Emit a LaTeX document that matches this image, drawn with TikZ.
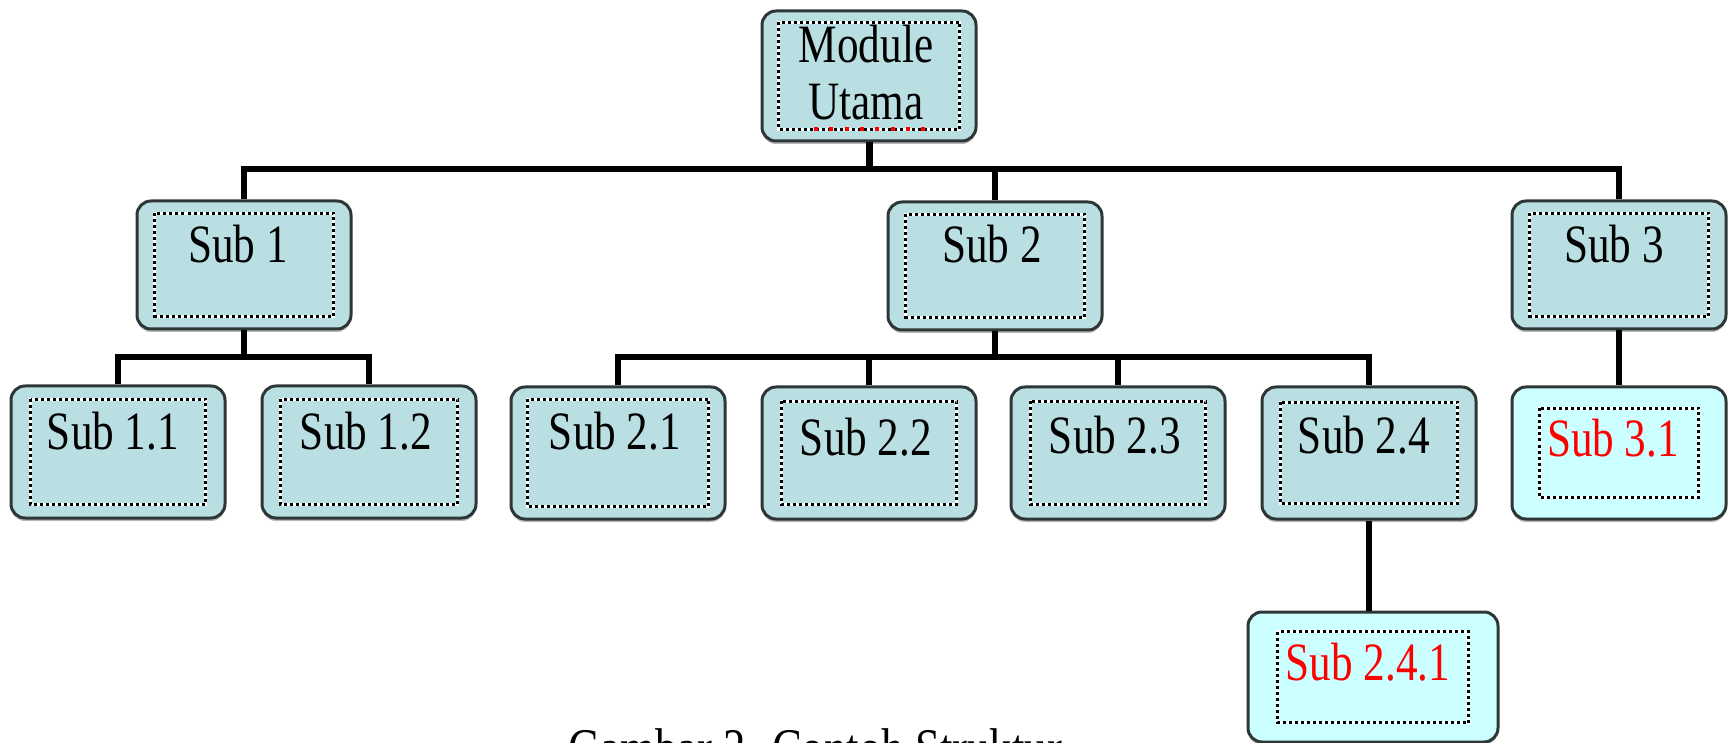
\documentclass[tikz,border=0pt]{standalone}
\usepackage{fontspec}
\setmainfont{Liberation Serif}
\newfontfamily\boxfont[FakeStretch=0.8]{Liberation Serif}
\usetikzlibrary{calc,shadows}

\definecolor{boxfill}{HTML}{BADFE3}
\definecolor{newfill}{HTML}{CCFFFF}
\definecolor{edgecol}{HTML}{2E3636}

\tikzset{
  unitbox/.style={draw=edgecol, line width=1.5pt, rounded corners=7pt,
    fill=boxfill, minimum width=107pt, minimum height=64pt, inner sep=0pt,
    drop shadow={shadow xshift=0pt, shadow yshift=-1.5pt, fill=black!28, opacity=1}},
  newbox/.style={unitbox, fill=newfill},
  lbl/.style={font=\boxfont\fontsize{27}{28.5}\selectfont, anchor=base, inner sep=0pt},
  newlbl/.style={lbl, text=red},
  conn/.style={line width=3pt, black},
}

% dotted black-and-white frame inside a box: node, horizontal and vertical inset
\newcommand\dotframe[3]{%
  \draw[white, line width=1.5pt]
    ($(#1.north west)+(#2,#3)$) rectangle ($(#1.south east)+(-#2,-#3)$);
  \draw[black, line width=1.5pt, dash pattern=on 1.5pt off 1.5pt]
    ($(#1.north west)+(#2,#3)$) rectangle ($(#1.south east)+(-#2,-#3)$);
}

\begin{document}
\begin{tikzpicture}[x=0.5pt, y=-0.5pt]
\useasboundingbox (0,0) rectangle (1731,743);
\clip (0,0) rectangle (1731,743);

% boxes
\node[unitbox, minimum height=65pt] (mod) at (869,76) {};
\node[unitbox] (s1) at (244,265) {};
\node[unitbox] (s2) at (995,266) {};
\node[unitbox] (s3) at (1619,265) {};
\node[unitbox, minimum height=66pt] (s11) at (118,452) {};
\node[unitbox, minimum height=66pt] (s12) at (369,452) {};
\node[unitbox, minimum height=66pt] (s21) at (618,453) {};
\node[unitbox, minimum height=66pt] (s22) at (869,453) {};
\node[unitbox, minimum height=66pt] (s23) at (1118,453) {};
\node[unitbox, minimum height=66pt] (s24) at (1369,453) {};
\node[newbox, minimum height=66pt] (s31) at (1619,453) {};
\node[newbox, minimum width=125pt, minimum height=65pt] (s241) at (1373,677) {};

% inner frames
\dotframe{mod}{18}{13}
\dotframe{s1}{19}{14}
\dotframe{s2}{19}{14}
\dotframe{s3}{19}{14}
\dotframe{s11}{21}{15}
\dotframe{s12}{20}{15}
\dotframe{s21}{18}{14}
\dotframe{s22}{21}{16}
\dotframe{s23}{21}{16}
\dotframe{s24}{20}{17}
\dotframe{s31}{29}{23}
\dotframe{s241}{31}{21}

% connectors
\coordinate (j0) at (869,169);
\coordinate (j1) at (244,357);
\coordinate (j2) at (995,357);
\draw[conn, line width=3.5pt] (mod.south) -- (j0);
\draw[conn] (s1.north) |- (s3.north |- j0) -- (s3.north);
\draw[conn] (s2.north) -- (s2.north |- j0);
\draw[conn] (s1.south) -- (j1);
\draw[conn] (s11.north) |- (s12.north |- j1) -- (s12.north);
\draw[conn] (s2.south) -- (j2);
\draw[conn] (s21.north) |- (s24.north |- j2) -- (s24.north);
\draw[conn] (s22.north) -- (s22.north |- j2);
\draw[conn] (s23.north) -- (s23.north |- j2);
\draw[conn] (s3.south) -- (s31.north);
\draw[conn] (s24.south) -- (s24.south |- s241.north);

% labels
\node[lbl] (tm1) at (866,63) {Module};
\node[lbl] (tm2) at (866,120) {Utama};
\foreach \i in {0,...,7} \fill[red] (814+15.3*\i,127) rectangle ++(4,4);
\node[lbl] (t1) at (238,263) {Sub 1};
\node[lbl] (t2) at (992,263) {Sub 2};
\node[lbl] (t3) at (1614,263) {Sub 3};
\node[lbl] (t11) at (113,450) {Sub 1.1};
\node[lbl] (t12) at (366,450) {Sub 1.2};
\node[lbl] (t21) at (615,450) {Sub 2.1};
\node[lbl] (t22) at (866,455) {Sub 2.2};
\node[lbl] (t23) at (1115,453) {Sub 2.3};
\node[lbl] (t24) at (1364,453) {Sub 2.4};
\node[newlbl] (t31) at (1613,457) {Sub 3.1};
\node[newlbl] (t241) at (1368,680) {Sub 2.4.1};

% caption, mostly below the lower edge
\node[lbl, font=\boxfont\fontsize{28}{30}\selectfont] (cap) at (815,767) {Gambar 2. Contoh Struktur};
\end{tikzpicture}
\end{document}
